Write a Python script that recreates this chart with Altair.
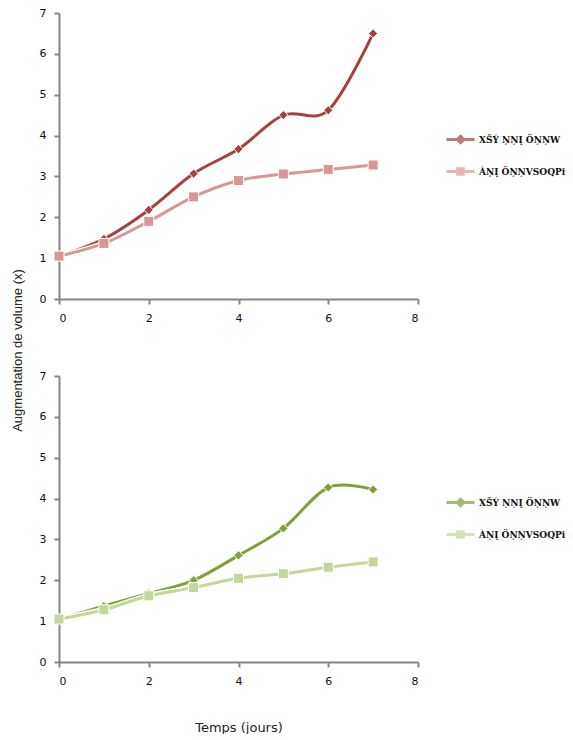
import altair as alt
import pandas as pd

# Days of measurement
days = [0, 1, 2, 3, 4, 5, 6, 7]

# Series labels (as they appear in the legend)
series_names = ["XŠÝ ŅŅĮ ÖŅŅW", "ÀŅĮ ÖŅŅVSOQPi"]

# Upper panel: volume increase per day
top_a = [1.05, 1.47, 2.18, 3.07, 3.67, 4.50, 4.62, 6.50]
top_b = [1.05, 1.36, 1.90, 2.50, 2.90, 3.06, 3.17, 3.28]

# Lower panel: volume increase per day
bottom_a = [1.05, 1.37, 1.68, 2.00, 2.61, 3.27, 4.27, 4.22]
bottom_b = [1.05, 1.28, 1.62, 1.82, 2.05, 2.16, 2.32, 2.45]

x_ticks = [0, 2, 4, 6, 8]
y_ticks = [0, 1, 2, 3, 4, 5, 6, 7]

PLOT_W = 359
PLOT_H = 286

# Legend glyphs: a line segment with the series marker in the middle
DIAMOND_LEGEND = "M-1,0L1,0M0,-0.22L0.22,0L0,0.22L-0.22,0Z"
SQUARE_LEGEND = "M-1,0L1,0M-0.2,-0.2L0.2,-0.2L0.2,0.2L-0.2,0.2Z"


def panel(vals_a, vals_b, colors, show_titles):
    df = pd.DataFrame({
        "jour": days * 2,
        "val": vals_a + vals_b,
        "serie": [series_names[0]] * len(days) + [series_names[1]] * len(days),
    })

    x = alt.X("jour:Q", scale=alt.Scale(domain=[0, 8]),
              axis=alt.Axis(values=x_ticks, title="Temps (jours)" if show_titles else None,
                            titleY=65, titleBaseline="middle",
                            titleFont="DejaVu Sans", titleFontSize=13,
                            titleFontWeight="normal", titleColor="#222222"))
    y = alt.Y("val:Q", scale=alt.Scale(domain=[0, 7]),
              axis=alt.Axis(values=y_ticks,
                            title="Augmentation de volume (x)" if show_titles else None,
                            titleX=-42, titleY=-26, titleAlign="center",
                            titleBaseline="middle", titleAngle=270,
                            titleFont="Liberation Sans", titleFontSize=13,
                            titleFontWeight="normal", titleColor="#222222"))

    legend = alt.Legend(
        title=None, orient="none", legendX=386, legendY=111,
        symbolSize=784, symbolStrokeWidth=3, rowPadding=7,
        labelFont="DejaVu Serif Condensed", labelFontSize=10, labelFontWeight="bold",
        labelColor="#111111", labelOffset=3, labelLimit=100,
    )
    color = alt.Color("serie:N", scale=alt.Scale(domain=series_names, range=colors), legend=legend)
    shape = alt.Shape("serie:N", scale=alt.Scale(domain=series_names,
                                                 range=[DIAMOND_LEGEND, SQUARE_LEGEND]),
                      legend=legend)

    base = alt.Chart(df)
    layers = []
    shapes = ["diamond", "square"]
    sizes = [85, 100]
    for i, name in enumerate(series_names):
        sub = base.transform_filter(alt.datum.serie == name)
        halo = sub.mark_line(interpolate="cardinal", stroke="white", strokeWidth=6).encode(x=x, y=y)
        line = sub.mark_line(interpolate="cardinal", strokeWidth=3).encode(x=x, y=y, color=color)
        pts = sub.mark_point(filled=True, shape=shapes[i], size=sizes[i], fill=colors[i],
                             stroke="white", strokeWidth=1, opacity=1).encode(x=x, y=y)
        layers += [halo, line, pts]
    # empty layer that only feeds the legend glyph shapes
    key = base.transform_filter("false").mark_point(filled=True).encode(
        x=x, y=y, color=color, shape=shape)
    layers.append(key)
    return alt.layer(*layers).properties(width=PLOT_W, height=PLOT_H)


top = panel(top_a, top_b, ["#A8403E", "#D99694"], False)
bottom = panel(bottom_a, bottom_b, ["#7E9F3A", "#C3D69B"], True)

chart = alt.vconcat(top, bottom, spacing=77, bounds="flush").resolve_scale(
    color="independent", shape="independent"
).properties(
    padding={"left": 10, "top": 7, "right": 0, "bottom": 0},
    background="white",
).configure_view(stroke=None).configure_axis(
    grid=False,
    domainColor="#868686", domainWidth=2,
    tickColor="#868686", tickWidth=2, tickSize=5,
    labelFont="DejaVu Sans", labelFontSize=11, labelColor="#111111",
    labelPadding=8,
)

chart.save("out.html", embed_options={"renderer": "svg", "actions": False})
